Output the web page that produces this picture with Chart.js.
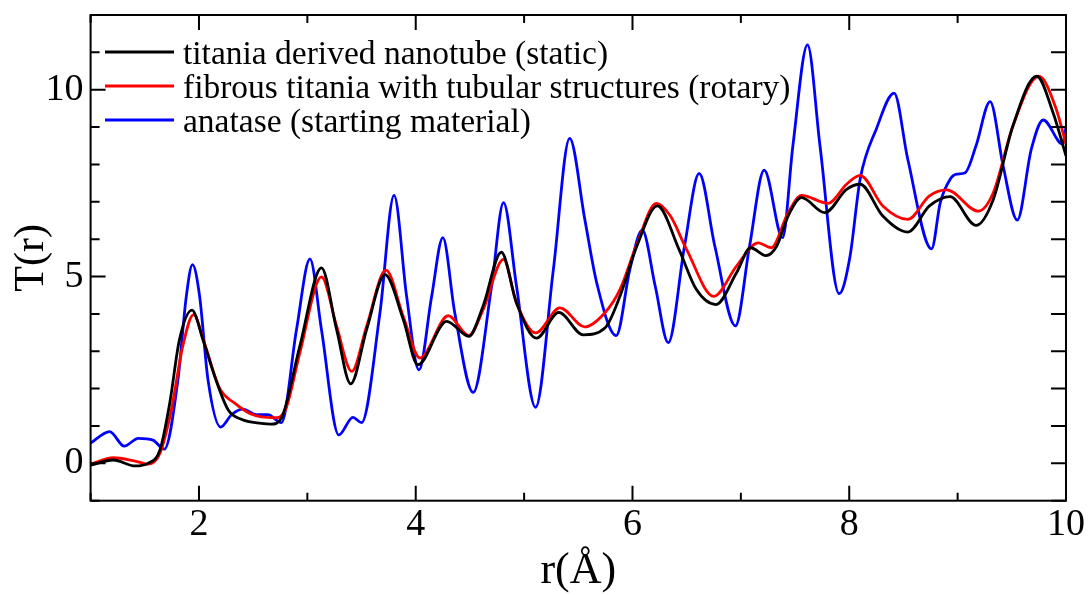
<!DOCTYPE html>
<html>
<head>
<meta charset="utf-8">
<script src="https://cdn.jsdelivr.net/npm/chart.js@4"></script>
<style>
  html, body { margin: 0; padding: 0; background: #fff; }
  #wrap { width: 1088px; height: 595px; }
</style>
</head>
<body>
<div id="wrap"><canvas id="chart" width="1088" height="595"></canvas></div>
<script>
// r (Angstrom) and T(r), one pair of arrays per curve
const staticX = [1.00, 1.21, 1.41, 1.53, 1.64, 1.73, 1.82, 1.935, 2.037, 2.145, 2.27, 2.39, 2.575, 2.667, 2.76,
    2.93, 3.13, 3.27, 3.40, 3.547, 3.716, 3.885, 4.02, 4.285, 4.49, 4.62, 4.79, 4.93, 5.115, 5.32, 5.545, 5.745,
    5.884, 6.04, 6.23, 6.43, 6.59, 6.77, 6.96, 7.09, 7.23, 7.33, 7.436, 7.56, 7.775, 7.975, 8.10, 8.31, 8.54,
    8.74, 8.93, 9.17, 9.33, 9.51, 9.73, 9.88, 10.0];
const staticY = [-0.05, 0.09, -0.07, 0.00, 0.36, 1.61, 3.31, 4.10, 3.31, 2.33, 1.43, 1.18, 1.07, 1.05, 1.21,
    3.13, 5.23, 3.58, 2.13, 3.58, 5.05, 3.85, 2.64, 3.80, 3.40, 4.20, 5.65, 4.29, 3.35, 4.04, 3.44, 3.62,
    4.47, 5.81, 6.89, 5.72, 4.65, 4.25, 5.10, 5.77, 5.56, 5.81, 6.62, 7.11, 6.71, 7.33, 7.47, 6.62, 6.19,
    6.89, 7.14, 6.37, 7.07, 9.03, 10.36, 9.39, 8.23];

const rotaryX = [1.00, 1.21, 1.41, 1.53, 1.64, 1.745, 1.85, 1.95, 2.05, 2.19, 2.33, 2.48, 2.70, 2.80,
    2.93, 3.13, 3.27, 3.41, 3.547, 3.725, 3.885, 4.04, 4.30, 4.49, 4.62, 4.81, 4.93, 5.106, 5.33, 5.56, 5.745,
    5.884, 6.04, 6.22, 6.35, 6.50, 6.75, 6.96, 7.16, 7.28, 7.436, 7.56, 7.805, 7.975, 8.10, 8.31, 8.54,
    8.74, 8.90, 9.19, 9.33, 9.51, 9.75, 9.91, 10.0];
const rotaryY = [-0.02, 0.15, 0.06, -0.02, 0.27, 1.43, 3.13, 3.98, 3.22, 2.01, 1.61, 1.32, 1.22, 1.45,
    2.95, 4.99, 3.67, 2.46, 3.67, 5.17, 3.93, 2.82, 3.95, 3.42, 4.10, 5.46, 4.29, 3.49, 4.16, 3.65, 4.03,
    4.65, 5.86, 6.96, 6.62, 5.72, 4.47, 5.28, 5.90, 5.77, 6.71, 7.17, 6.96, 7.47, 7.71, 6.89, 6.53,
    7.16, 7.32, 6.75, 7.25, 9.03, 10.36, 9.48, 8.54];

const anataseX = [1.00, 1.176, 1.31, 1.44, 1.575, 1.68, 1.806, 1.883, 1.94, 2.006, 2.083, 2.20, 2.30, 2.406,
    2.53, 2.636, 2.76, 2.90, 3.024, 3.13, 3.29, 3.42, 3.50, 3.67, 3.80, 3.916, 4.03, 4.147, 4.25, 4.36, 4.53,
    4.70, 4.81, 4.93, 5.106, 5.27, 5.42, 5.56, 5.67, 5.85, 5.976, 6.09, 6.21, 6.33, 6.48, 6.615, 6.76, 6.95,
    7.08, 7.215, 7.385, 7.48, 7.615, 7.73, 7.907, 8.005, 8.10, 8.25, 8.414, 8.54, 8.76, 8.84, 8.93, 8.99,
    9.07, 9.17, 9.30, 9.42, 9.55, 9.68, 9.79, 9.97, 10.0];
const anataseY = [0.54, 0.85, 0.46, 0.67, 0.62, 0.38, 2.24, 4.47, 5.32, 4.47, 2.24, 0.97, 1.30, 1.45,
    1.30, 1.30, 1.09, 3.58, 5.47, 3.58, 0.76, 1.23, 1.09, 4.03, 7.17, 4.47, 2.50, 4.47, 6.04, 4.03, 1.90,
    4.74, 6.98, 4.74, 1.50, 5.19, 8.70, 6.53, 4.83, 3.42, 5.19, 6.24, 4.74, 3.23, 5.81, 7.76, 5.81, 3.68,
    5.81, 7.85, 6.04, 8.50, 11.20, 8.50, 4.54, 5.50, 7.60, 8.95, 9.91, 8.14, 5.74, 6.98, 7.60, 7.74,
    7.78, 8.50, 9.68, 7.96, 6.51, 8.41, 9.19, 8.54, 9.00];

const seriesNames = ['titania derived nanotube (static)',
    'fibrous titania with tubular structures (rotary)',
    'anatase (starting material)'];
const seriesColors = ['#000000', '#ff0000', '#0000ff'];

const xTickLabels = [2, 4, 6, 8, 10];
const yTickLabels = [0, 5, 10];

const serif = '"Liberation Serif", "Times New Roman", serif';

function toPoints(xs, ys) {
    return xs.map((x, i) => ({ x: x, y: ys[i] }));
}

function makeDataset(i, xs, ys) {
    return {
        label: seriesNames[i],
        data: toPoints(xs, ys),
        borderColor: seriesColors[i],
        backgroundColor: seriesColors[i],
        borderWidth: 2.8,
        pointRadius: 0,
        showLine: true,
        fill: false,
        cubicInterpolationMode: 'monotone'
    };
}

// box round the plot, inward ticks on all four sides, and the legend inside the box
const framePlugin = {
    id: 'frame',
    afterDatasetsDraw(chart) {
        const { ctx, chartArea: a, scales } = chart;
        ctx.save();
        ctx.strokeStyle = '#000';
        ctx.lineWidth = 2;
        ctx.beginPath();
        scales.x.ticks.forEach(t => {
            const px = scales.x.getPixelForValue(t.value);
            const len = xTickLabels.includes(t.value) ? 15 : 8;
            ctx.moveTo(px, a.bottom); ctx.lineTo(px, a.bottom - len);
            ctx.moveTo(px, a.top); ctx.lineTo(px, a.top + len);
        });
        scales.y.ticks.forEach(t => {
            const py = scales.y.getPixelForValue(t.value);
            const len = yTickLabels.includes(t.value) ? 15 : 9;
            ctx.moveTo(a.left, py); ctx.lineTo(a.left + len, py);
            ctx.moveTo(a.right, py); ctx.lineTo(a.right - 15, py);
        });
        ctx.stroke();
        ctx.strokeRect(a.left, a.top, a.right - a.left, a.bottom - a.top);

        // legend
        ctx.font = '33.5px ' + serif;
        ctx.textBaseline = 'alphabetic';
        ctx.textAlign = 'left';
        chart.data.datasets.forEach((ds, i) => {
            const y = 52 + 34 * i;
            ctx.strokeStyle = ds.borderColor;
            ctx.lineWidth = 2.8;
            ctx.beginPath();
            ctx.moveTo(105, y); ctx.lineTo(174, y);
            ctx.stroke();
            ctx.fillStyle = '#000';
            ctx.fillText(ds.label, 183, y + 12);
        });
        ctx.restore();
    }
};

function makeChart(canvas) {
    const ctx = canvas.getContext('2d');
    return new Chart(ctx, {
        type: 'scatter',
        data: {
            datasets: [
                makeDataset(0, staticX, staticY),
                makeDataset(1, rotaryX, rotaryY),
                makeDataset(2, anataseX, anataseY)
            ]
        },
        options: {
            responsive: false,
            animation: false,
            layout: { padding: { left: 0, right: 22, top: 15, bottom: 0 } },
            plugins: {
                legend: { display: false },
                tooltip: { enabled: false }
            },
            scales: {
                x: {
                    type: 'linear',
                    min: 1,
                    max: 10,
                    grid: { display: false, drawTicks: false },
                    border: { display: false },
                    ticks: {
                        stepSize: 1,
                        autoSkip: false,
                        maxRotation: 0,
                        padding: 2,
                        color: '#000',
                        font: { family: serif, size: 38 },
                        callback: v => xTickLabels.includes(v) ? String(v) : ''
                    },
                    title: {
                        display: true,
                        text: 'r(Å)',
                        color: '#000',
                        font: { family: serif, size: 44, lineHeight: 1 },
                        padding: { top: 0, bottom: 2 }
                    },
                    afterFit: s => { s.height = 94.3; s.paddingLeft = 0; s.paddingRight = 0; }
                },
                y: {
                    type: 'linear',
                    min: -1,
                    max: 12,
                    grid: { display: false, drawTicks: false },
                    border: { display: false },
                    ticks: {
                        stepSize: 1,
                        autoSkip: false,
                        padding: 7,
                        color: '#000',
                        font: { family: serif, size: 38 },
                        callback: v => yTickLabels.includes(v) ? String(v) : ''
                    },
                    title: {
                        display: true,
                        text: 'T(r)',
                        color: '#000',
                        font: { family: serif, size: 42, lineHeight: 1 },
                        padding: { top: 11, bottom: 0 }
                    },
                    afterFit: s => { s.width = 90.6; s.paddingTop = 0; s.paddingBottom = 0; }
                }
            }
        },
        plugins: [framePlugin]
    });
}

makeChart(document.getElementById('chart'));
</script>
</body>
</html>
